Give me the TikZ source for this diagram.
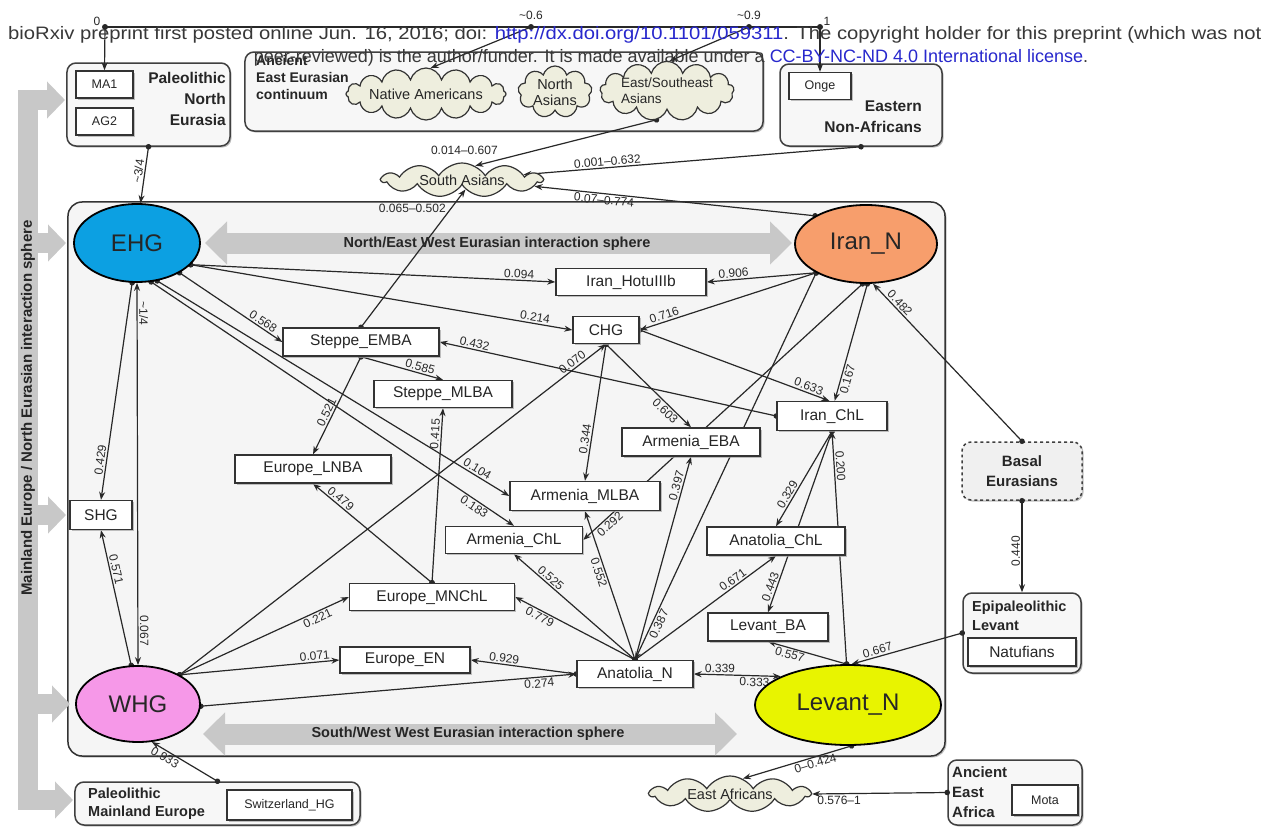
\documentclass[tikz,border=0pt]{standalone}
\usepackage{graphicx}
\usepackage{fontspec}
\setmainfont{Liberation Sans}
\usetikzlibrary{arrows.meta,shapes.geometric,shapes.symbols,shadows}
\pgfdeclarelayer{bg}
\pgfdeclarelayer{edges}
\pgfsetlayers{bg,edges,main}
\definecolor{ehgc}{RGB}{12,160,226}
\definecolor{irnc}{RGB}{247,158,108}
\definecolor{whgc}{RGB}{246,152,232}
\definecolor{levc}{RGB}{232,244,0}
\definecolor{cldc}{RGB}{238,238,222}
\definecolor{barc}{RGB}{200,200,200}
\definecolor{lnk}{RGB}{40,40,205}
\definecolor{lnc}{RGB}{40,40,40}
\newcommand\myfs[2]{\fontsize{#1bp}{#2bp}\selectfont}
\tikzset{
 e/.style={draw=lnc, line width=1.2bp, {Circle[length=5.5bp]}-{Stealth[length=8bp,width=6bp]}, shorten <=-2.75bp},
 ea/.style={draw=lnc, line width=1.2bp, -{Stealth[length=8bp,width=6bp]}},
 ee/.style={draw=lnc, line width=1.2bp, {Stealth[length=8bp,width=6bp]}-{Stealth[length=8bp,width=6bp]}},
 lab/.style={font=\myfs{12}{13}, inner sep=1.5bp, text=lnc},
 ell/.style={ellipse, draw=black, line width=1.8bp, inner sep=0, font=\myfs{24}{26}, text=black!85},
 shd/.style={drop shadow={shadow xshift=1.5bp, shadow yshift=-1.5bp, fill=black!35, opacity=0.7}},
 box/.style 2 args={rectangle, draw=black!80, line width=1.4bp, fill=white, minimum width=#1bp, minimum height=#2bp, inner sep=0, font=\myfs{15.5}{17}, text=black!85, shd},
 sbox/.style 2 args={box={#1}{#2}, font=\myfs{12.5}{14}},
 grp/.style 2 args={rectangle, rounded corners=9bp, draw=black!75, line width=1.5bp, fill=black!3, inner sep=0, minimum width=#1bp, minimum height=#2bp, shd},
 gtxt/.style={font=\bfseries\myfs{15.5}{21}, inner sep=0, text=black!85},
 cld/.style={cloud, cloud puffs=#1, cloud ignores aspect, draw=black!80, line width=1.2bp, fill=cldc, inner sep=0, font=\myfs{14.5}{16}, text=black!85},
 garrow/.style={draw=barc, line width=21bp, {Triangle[length=22bp,width=42bp]}-{Triangle[length=22bp,width=42bp]}},
 gbar/.style={draw=barc, line width=20bp, line join=miter, {Triangle[length=18bp,width=36bp]}-{Triangle[length=18bp,width=36bp]}},
 gbr/.style={draw=barc, line width=20bp, -{Triangle[length=18bp,width=36bp]}},
 itxt/.style={font=\bfseries\myfs{14.5}{16}, text=black!85, inner sep=0},
 hdr/.style={font=\myfs{18}{21}, text=black!78, inner sep=0},
}
\begin{document}
\begin{tikzpicture}[x=1bp,y=-1bp]
\useasboundingbox (0,0) rectangle (1267,827);
\begin{pgfonlayer}{bg}
\fill[white] (0,0) rectangle (1267,827);
% main interaction box
\node[rectangle, rounded corners=14bp, draw=black!80, line width=1.5bp, fill=black!4, minimum width=877bp, minimum height=554bp, inner sep=0, shd] (MAIN) at (506.5,479) {};
% gray interaction arrows
\coordinate (neL) at (205,243); \coordinate (neR) at (792,243);
\coordinate (swL) at (203,734); \coordinate (swR) at (737,734);
\draw[garrow] (neL) -- (neR);
\draw[garrow] (swL) -- (swR);
\node[itxt] (neT) at (497,244) {North/East West Eurasian interaction sphere};
\node[itxt] (swT) at (468,734) {South/West West Eurasian interaction sphere};
% left bar
\coordinate (bA) at (65,100); \coordinate (bB) at (28,100);
\coordinate (bC) at (28,800); \coordinate (bD) at (73,800);
\draw[gbar] (bA) -- (bB) -- (bC) -- (bD);
\coordinate (b1) at (28,243); \coordinate (b1e) at (66,243);
\coordinate (b2) at (28,515); \coordinate (b2e) at (66,515);
\coordinate (b3) at (28,704); \coordinate (b3e) at (70,704);
\draw[gbr] (b1) -- (b1e);
\draw[gbr] (b2) -- (b2e);
\draw[gbr] (b3) -- (b3e);
\node[itxt, font=\bfseries\myfs{15}{16}, rotate=90] (barT) at (28,408) {Mainland Europe / North Eurasian interaction sphere};
% group boxes
\node[grp={163}{83}] (PNE) at (148.5,104.5) {};
\node[grp={518}{79}] (EE) at (504,91.5) {};
\node[grp={162}{82}] (ENA) at (861,105) {};
\node[grp={120}{58}, dashed, fill=black!6] (Basal) at (1022,471) {};
\node[grp={118}{80}] (EpiLev) at (1022,633) {};
\node[grp={134}{65}] (AEA) at (1015,792.5) {};
\node[grp={285}{43}] (PME) at (217.5,803.5) {};
\end{pgfonlayer}
% group texts
\node[gtxt, anchor=north east, align=right] (pneT) at (226,72) {Paleolithic\\North\\Eurasia};
\node[gtxt, font=\bfseries\myfs{14}{17}, anchor=north west, align=left] (eeT) at (256,55) {Ancient\\East Eurasian\\continuum};
\node[gtxt, anchor=north east, align=right] (enaT) at (922,101) {Eastern\\Non-Africans};
\node[gtxt, align=center, font=\bfseries\myfs{15}{20}] (basT) at (1022,471) {Basal\\Eurasians};
\node[gtxt, anchor=north west, align=left, font=\bfseries\myfs{14.5}{19}] (epiT) at (972,601) {Epipaleolithic\\Levant};
\node[gtxt, anchor=north west, align=left, font=\bfseries\myfs{15}{20}] (aeaT) at (952,766) {Ancient\\East\\Africa};
\node[gtxt, anchor=north west, align=left, font=\bfseries\myfs{14.5}{18}] (pmeT) at (88,788) {Paleolithic\\Mainland Europe};
% small boxes
\node[sbox={57}{27}] (MA1) at (104.5,84.5) {MA1};
\node[sbox={57}{27}] (AG2) at (104.5,121.5) {AG2};
\node[sbox={62}{27}] (Onge) at (820,86) {Onge};
\node[box={108}{28}] (Natuf) at (1022,652) {Natufians};
\node[sbox={66}{30}] (Mota) at (1045,800) {Mota};
\node[sbox={125}{30}] (Swiss) at (289.5,805) {Switzerland\_HG};
% clouds
\node[cld=16, minimum width=160bp, minimum height=52bp] (NatAm) at (426,94) {Native Americans};
\node[cld=9, minimum width=74bp, minimum height=52bp, align=center] (NAs) at (555,92) {North\\Asians};
\node[cld=13, minimum width=134bp, minimum height=56bp, align=left, font=\myfs{13.5}{16}] (ESEAs) at (667,91) {East/Southeast\\Asians};
\node[cld=11, cloud puff arc=115, minimum width=160bp, minimum height=34bp] (SAs) at (462,180) {South Asians};
\node[cld=11, cloud puff arc=115, minimum width=160bp, minimum height=36bp] (EAf) at (730,794) {East Africans};
% ellipses
\node[ell, fill=ehgc, minimum width=126bp, minimum height=78bp] (EHG) at (137,243) {EHG};
\node[ell, fill=irnc, minimum width=142bp, minimum height=78bp] (IranN) at (866,244) {Iran\_N};
\node[ell, fill=whgc, minimum width=124bp, minimum height=76bp] (WHG) at (138,704) {WHG};
\node[ell, fill=levc, minimum width=186bp, minimum height=80bp] (LevN) at (848,705) {Levant\_N};
% boxes
\node[box={150}{27}] (Hotu) at (631,282) {Iran\_HotuIIIb};
\node[box={66}{27}] (CHG) at (606,330) {CHG};
\node[box={156}{28}] (SEMBA) at (361,342) {Steppe\_EMBA};
\node[box={138}{27}] (SMLBA) at (443,394) {Steppe\_MLBA};
\node[box={110}{29}] (IranChL) at (832,416) {Iran\_ChL};
\node[box={138}{28}] (ArmEBA) at (691,442) {Armenia\_EBA};
\node[box={156}{28}] (EurLNBA) at (313,469) {Europe\_LNBA};
\node[box={150}{29}] (ArmMLBA) at (585,496) {Armenia\_MLBA};
\node[box={137}{27}] (ArmChL) at (514,540) {Armenia\_ChL};
\node[box={138}{28}] (AnaChL) at (776,541) {Anatolia\_ChL};
\node[box={62}{29}] (SHG) at (101,515) {SHG};
\node[box={165}{27}] (EurMNChL) at (432,597) {Europe\_MNChL};
\node[box={120}{28}] (LevBA) at (768,627) {Levant\_BA};
\node[box={130}{26}] (EurEN) at (405,660) {Europe\_EN};
\node[box={116}{27}] (AnaN) at (635,674) {Anatolia\_N};
% scale
\coordinate (t0) at (105,27); \coordinate (t6) at (531,27);
\coordinate (t9) at (749,27); \coordinate (t1) at (820,27);
\node[lab] (s0) at (97,21) {0};
\node[lab] (s6) at (531,15) {\textasciitilde0.6};
\node[lab] (s9) at (749,15) {\textasciitilde0.9};
\node[lab] (s1) at (827,21) {1};
\begin{pgfonlayer}{edges}
\draw[line width=1.4bp, draw=lnc] (t0) -- (t1);
\foreach \c in {t0,t6,t9,t1} \fill[lnc] (\c) circle (3bp);
\draw[ea] (t0) -- (MA1.north);
\draw[ea] (t6) -- (NatAm.80);
\draw[ea] (t9) -- (ESEAs.85);
\draw[ea] (t1) -- (Onge.north);
\draw[e] (PNE.south) -- node[lab, sloped, above, pos=0.45] (q1) {\textasciitilde3/4} (EHG.85);
% South Asians
\draw[e] (ESEAs.-110) -- node[lab, pos=0.95, above=7bp, xshift=-20bp] (q2) {0.014--0.607} (SAs.47);
\draw[e] (ENA.south) -- node[lab, sloped, above, pos=0.75] (q3) {0.001--0.632} (SAs.5);
\draw[e] (IranN.151) -- node[lab, sloped, below, pos=0.75] (q4) {0.07--0.774} (SAs.-5);
\draw[e] (SEMBA.north) -- node[lab, pos=0.86, left=3bp] (q5) {0.065--0.502} (SAs.-70);
% EHG
\draw[e] (EHG.-22) -- node[lab, sloped, above, pos=0.9] (q6) {0.094} (Hotu.west);
\draw[e] (EHG.-22) -- node[lab, sloped, above, pos=0.9] (q7) {0.214} (CHG.west);
\draw[e] (EHG.-35) -- node[lab, sloped, above, pos=0.78] (q8) {0.568} (SEMBA.west);
\draw[e] (EHG.-62) -- node[lab, sloped, above, pos=0.9] (q9) {0.104} (ArmMLBA.west);
\draw[e] (EHG.-70) -- node[lab, sloped, below, pos=0.9] (q10) {0.183} (ArmChL.north);
\draw[e] (EHG.-97) -- node[lab, sloped, above, pos=0.82] (q11) {0.429} (SHG.north);
\draw[ee] (EHG.-90) -- node[lab, rotate=-90, anchor=south, pos=0.08] (q12) {\textasciitilde1/4} node[lab, rotate=-90, anchor=south, pos=0.91] (q13) {0.067} (WHG.90);
% WHG
\draw[e] (WHG.100) -- node[lab, sloped, above, pos=0.7] (q14) {0.571} (SHG.south);
\draw[e] (WHG.35) -- node[lab, sloped, above, pos=0.93] (q15) {0.070} (CHG.south);
\draw[e] (WHG.35) -- node[lab, sloped, below, pos=0.8] (q16) {0.221} (EurMNChL.west);
\draw[e] (WHG.35) -- node[lab, sloped, above, pos=0.85] (q17) {0.071} (EurEN.west);
\draw[e] (WHG.-2) -- node[lab, sloped, below, pos=0.9] (q18) {0.274} (AnaN.west);
\draw[e] (PME.north) -- node[lab, sloped, below, pos=0.75] (q19) {0.933} (WHG.-70);
% Anatolia_N
\draw[e] (AnaN.west) -- node[lab, sloped, above, pos=0.69] (q20) {0.929} (EurEN.east);
\draw[e] (AnaN.north) -- node[lab, sloped, below, pos=0.77] (q21) {0.779} (EurMNChL.east);
\draw[e] (AnaN.north) -- node[lab, sloped, above, pos=0.73] (q22) {0.525} (ArmChL.south);
\draw[e] (AnaN.north) -- node[lab, sloped, below, pos=0.6] (q23) {0.552} (ArmMLBA.south);
\draw[e] (AnaN.north) -- node[lab, sloped, above, pos=0.85] (q24) {0.397} (ArmEBA.south);
\draw[e] (AnaN.north) -- node[lab, sloped, above, pos=0.72] (q25) {0.671} (AnaChL.south);
% Iran_N
\draw[e] (IranN.-150) -- node[lab, sloped, above, pos=0.75] (q26) {0.906} (Hotu.east);
\draw[e] (IranN.-150) -- node[lab, sloped, above, pos=0.85] (q27) {0.716} (CHG.east);
\draw[e] (IranN.-150) -- node[lab, sloped, below, pos=0.9] (q28) {0.387} (AnaN.north);
\draw[e] (IranN.-95) -- node[lab, sloped, below, pos=0.92] (q29) {0.292} (ArmChL.east);
\draw[e] (IranN.-88) -- node[lab, sloped, below, pos=0.8] (q30) {0.167} (IranChL.80);
\draw[e] (Basal.north) -- node[lab, sloped, above, pos=0.85] (q31) {0.482} (IranN.-80);
\draw[e] (Basal.south) -- node[lab, rotate=90, anchor=south, pos=0.55] (q32) {0.440} (EpiLev.north);
% CHG
\draw[e] (CHG.east) -- node[lab, sloped, above, pos=0.88] (q33) {0.633} (IranChL.100);
\draw[e] (CHG.south) -- node[lab, sloped, above, pos=0.7] (q34) {0.344} (ArmMLBA.north);
\draw[e] (CHG.south) -- node[lab, sloped, below, pos=0.75] (q35) {0.603} (ArmEBA.north);
% Iran_ChL
\draw[e] (IranChL.west) -- node[lab, sloped, above, pos=0.9] (q36) {0.432} (SEMBA.east);
\draw[e] (IranChL.south) -- node[lab, sloped, above, pos=0.7] (q37) {0.329} (AnaChL.north);
\draw[e] (IranChL.south) -- node[lab, sloped, above, pos=0.87] (q38) {0.443} (LevBA.north);
% Levant_N
\draw[e] (LevN.92) -- node[lab, sloped, above, pos=0.85] (q39) {0.200} (IranChL.south);
\draw[e] (EpiLev.west) -- node[lab, sloped, above, pos=0.75] (q40) {0.667} (LevN.85);
\draw[e] (LevN.92) -- node[lab, sloped, below, pos=0.7] (q41) {0.557} (LevBA.south);
\draw[ee] (AnaN.east) -- node[lab, sloped, above, pos=0.3] (q42) {0.339} node[lab, sloped, below, pos=0.7] (q43) {0.333} (LevN.157);
\draw[e] (LevN.-85) -- node[lab, sloped, below, pos=0.35] (q44) {0--0.424} (EAf.50);
\draw[e] (AEA.west) -- node[lab, below, pos=0.8] (q45) {0.576--1} (EAf.east);
% Steppe
\draw[e] (SEMBA.south) -- node[lab, sloped, above, pos=0.7] (q46) {0.585} (SMLBA.north);
\draw[e] (SEMBA.south) -- node[lab, sloped, above, pos=0.6] (q47) {0.521} (EurLNBA.north);
\draw[e] (EurMNChL.north) -- node[lab, sloped, above, pos=0.85] (q48) {0.415} (SMLBA.south);
\draw[e] (EurMNChL.north) -- node[lab, sloped, above, pos=0.8] (q49) {0.479} (EurLNBA.south);
\end{pgfonlayer}
% header
\node[hdr, anchor=base west] (hdr1) at (8,39) {\scalebox{1.125}[1]{bioRxiv preprint first posted online Jun. 16, 2016; doi: \textcolor{lnk}{http://dx.doi.org/10.1101/059311}. The copyright holder for this preprint (which was not}};
\node[hdr, anchor=base] (hdr2) at (671,62) {peer-reviewed) is the author/funder. It is made available under a \textcolor{lnk}{CC-BY-NC-ND 4.0 International license}.};
\end{tikzpicture}
\end{document}
